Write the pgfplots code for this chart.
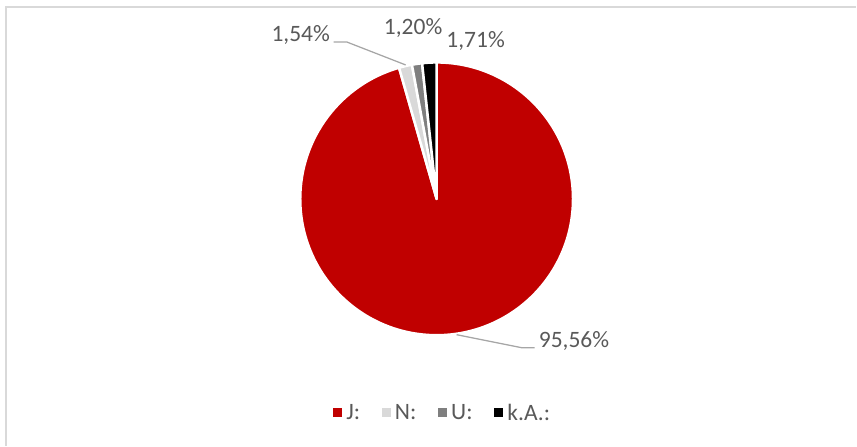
\documentclass[border=0pt]{standalone}
\usepackage{fontspec}
\setmainfont{Carlito}
\usepackage{pgfplots}
\usepackage{pgfplotstable}
\pgfplotsset{compat=1.18}

\definecolor{cJ}{HTML}{C00000}
\definecolor{cN}{HTML}{D9D9D9}
\definecolor{cU}{HTML}{7F7F7F}
\definecolor{cK}{HTML}{000000}
\definecolor{txt}{HTML}{595959}
\definecolor{leader}{HTML}{A6A6A6}
\definecolor{frame}{HTML}{D9D9D9}
\newcommand\chartfont{\fontsize{23.5bp}{28bp}\selectfont}

% share in percent, slice colour, position of the percent label
\pgfplotstableread{
label value colour lx ly
J: 95.56 cJ 574.5 98
N: 1.54 cN 301 404
U: 1.20 cU 413.5 411
k.A.: 1.71 cK 476 398
}\piedata

\begin{document}
\begin{tikzpicture}[every node/.append style={font=\chartfont, text=txt}]
\begin{axis}[
    width=857bp, height=446bp, scale only axis,
    xmin=0, xmax=857, ymin=0, ymax=446,
    axis lines=none, clip=false,
    legend columns=4,
    legend cell align=left,
    legend style={at={(axis cs:333,33)}, anchor=west, draw=none, fill=none,
      inner sep=0pt, font=\chartfont, text=txt,
      /tikz/every odd column/.append style={column sep=3bp},
      /tikz/every even column/.append style={column sep=19.5bp}},
  ]
  \path (axis cs:0,0) rectangle (axis cs:857,446);
  % chart area frame (only top and left edge visible)
  \draw[frame, line width=1.5bp] (axis cs:6,0) -- (axis cs:6,439) -- (axis cs:857,439);

  % slices, clockwise from 12 o'clock
  \def\sa{90}
  \pgfplotsforeachungrouped \i in {0,...,3}{%
    \pgfplotstablegetelem{\i}{value}\of\piedata \let\val\pgfplotsretval
    \pgfplotstablegetelem{\i}{colour}\of\piedata \let\col\pgfplotsretval
    \pgfplotstablegetelem{\i}{label}\of\piedata \let\lab\pgfplotsretval
    \pgfplotstablegetelem{\i}{lx}\of\piedata \let\lx\pgfplotsretval
    \pgfplotstablegetelem{\i}{ly}\of\piedata \let\ly\pgfplotsretval
    \pgfmathsetmacro\ea{\sa-3.6*\val}%
    \edef\temp{%
      \noexpand\fill[\col, draw=white, line width=2.5bp, line join=round]
        (axis cs:437,247) -- ++(\sa:136.5bp)
        arc[start angle=\sa, end angle=\ea, radius=136.5bp] -- cycle;
      \noexpand\node[anchor=base, inner sep=0pt] at (axis cs:\lx,\ly)
        {\noexpand\pgfmathprintnumber[fixed,precision=2,fixed zerofill,use comma,assume math mode=true]{\val}\noexpand\%};
      \noexpand\addlegendimage{legend image code/.code={\noexpand\fill[\col] (0bp,-4bp) rectangle (8bp,4bp);}}
      \noexpand\addlegendentry{\lab}%
    }%
    \temp
    \let\sa\ea
  }

  % leader lines
  \draw[leader, line width=1.25bp] (axis cs:334,404) -- (axis cs:347,404) -- (axis cs:406,381);
  \draw[leader, line width=1.25bp] (axis cs:457,111) -- (axis cs:522,98) -- (axis cs:535,98);
\end{axis}
\end{tikzpicture}
\end{document}
